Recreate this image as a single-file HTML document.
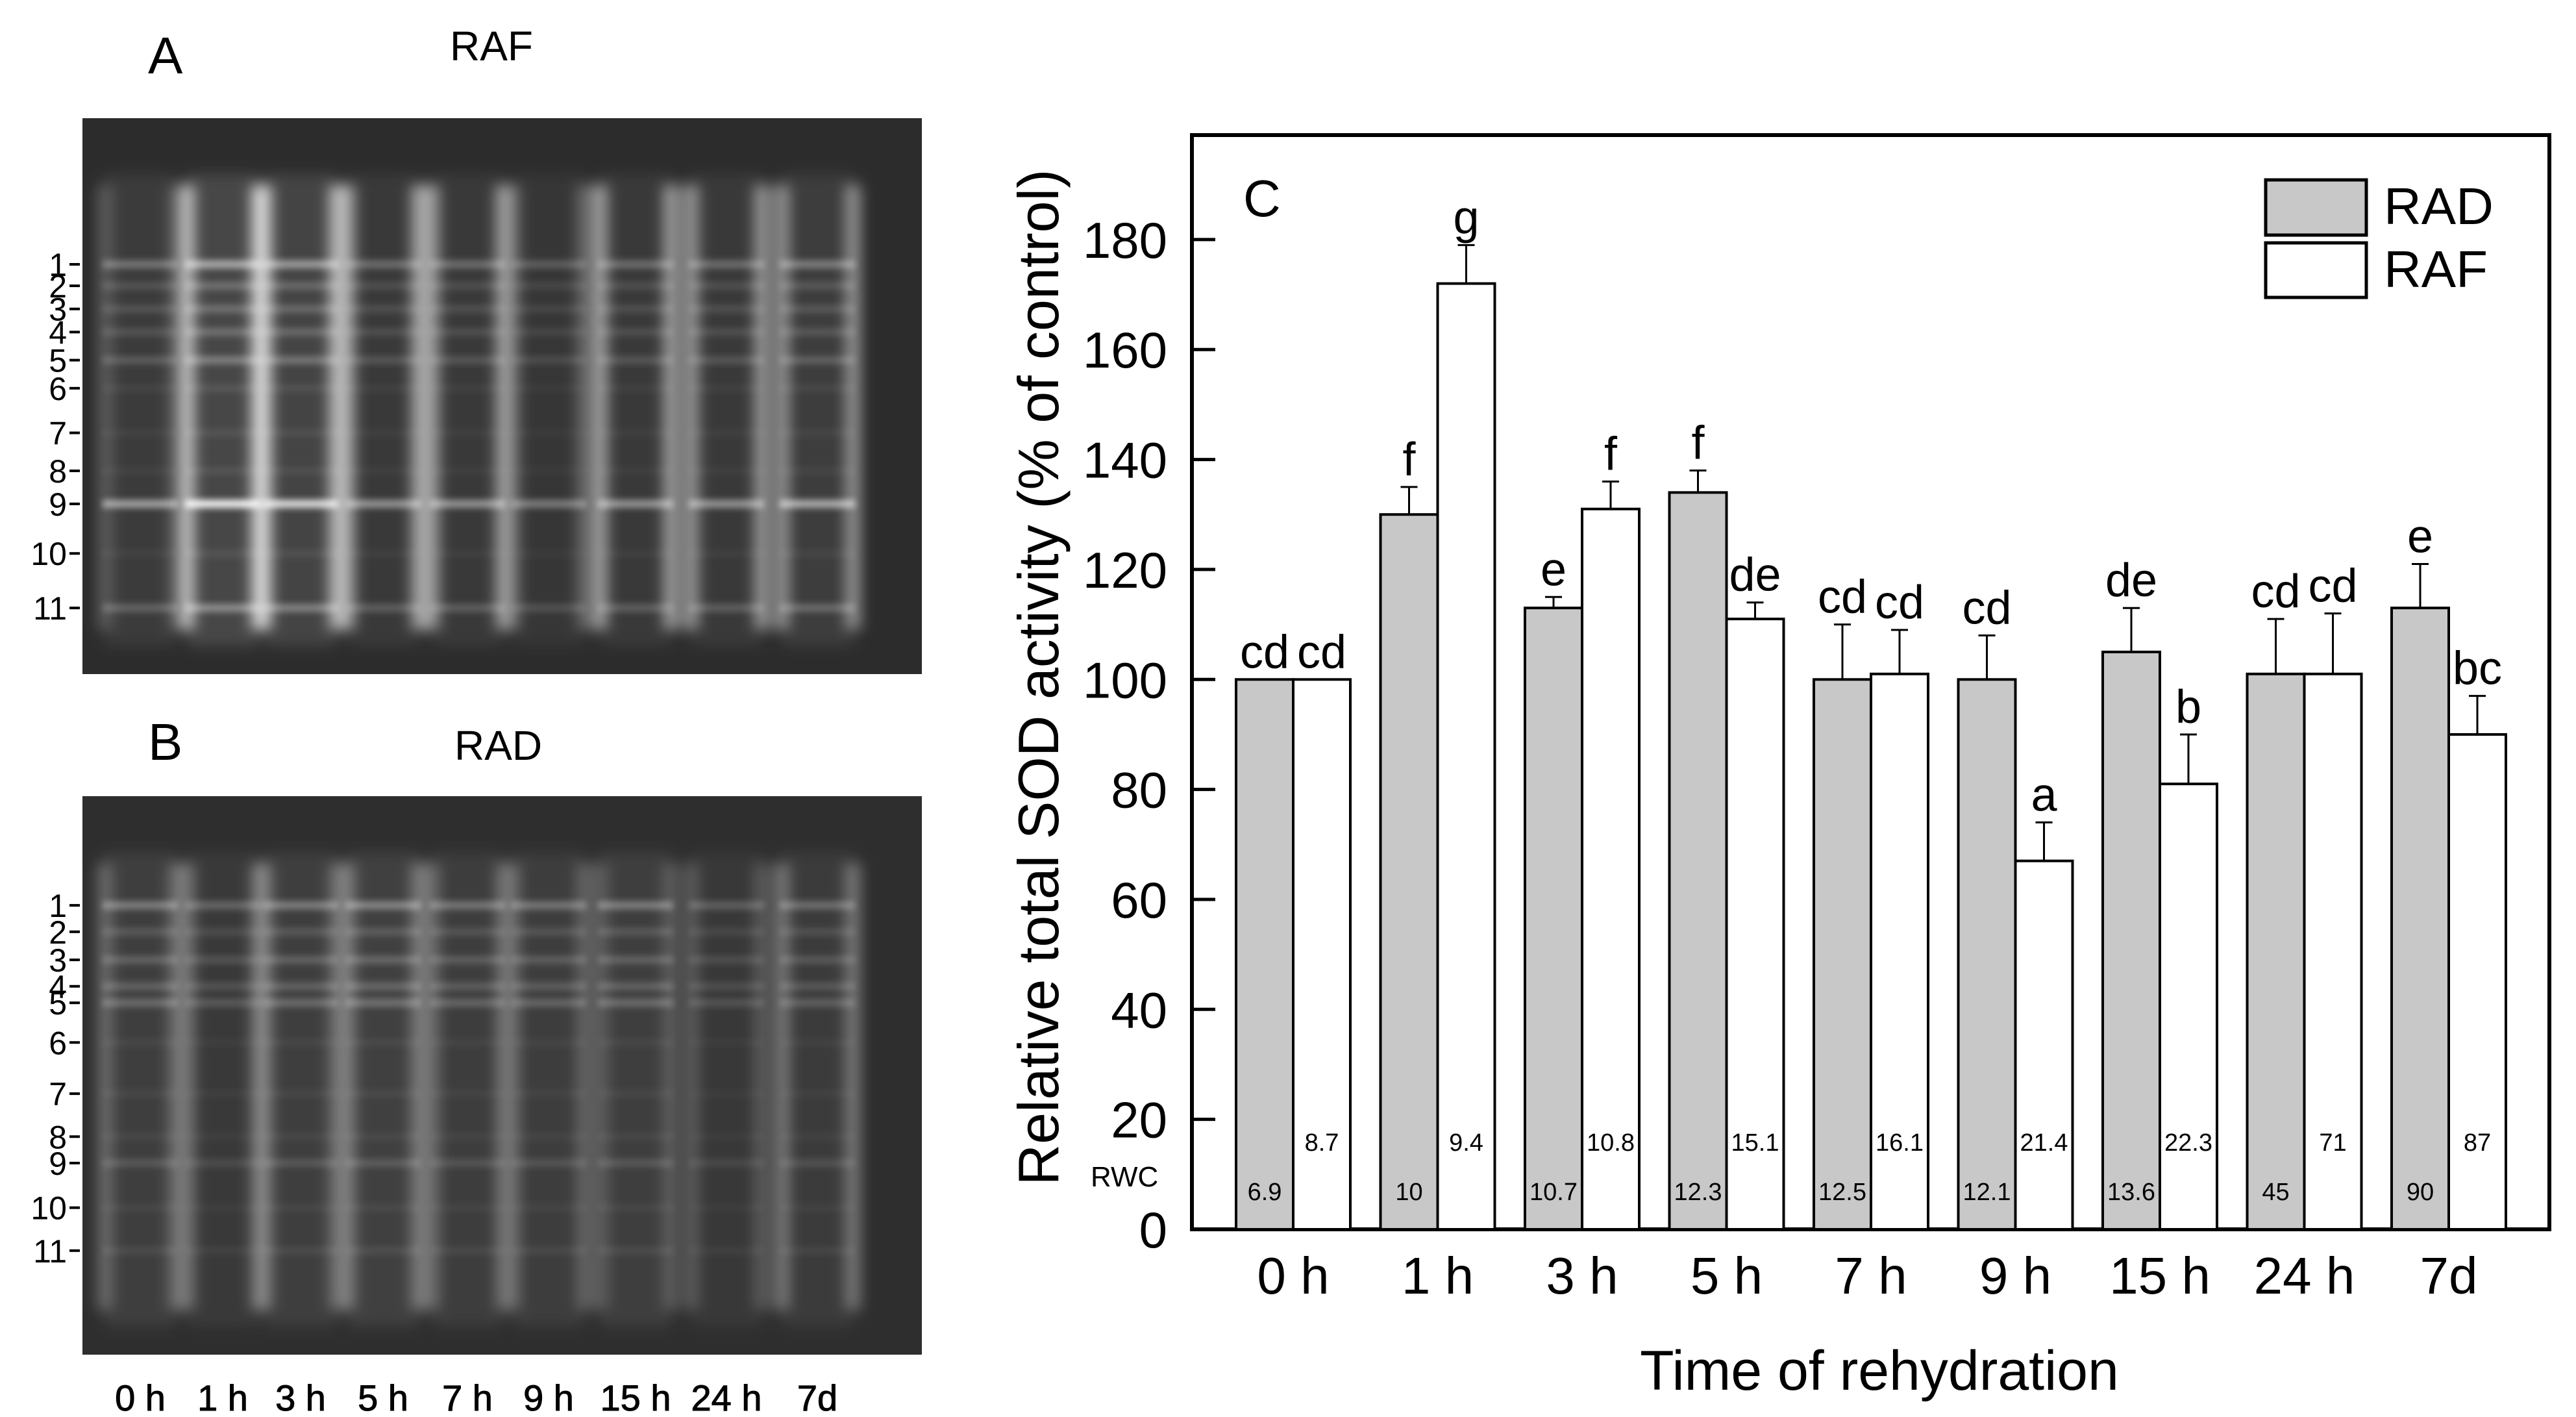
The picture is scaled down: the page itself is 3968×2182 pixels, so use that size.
<!DOCTYPE html>
<html><head><meta charset="utf-8"><style>
html,body{margin:0;padding:0;background:#fff;}
svg{display:block;font-family:"Liberation Sans",Arial,sans-serif;}
</style></head><body>
<svg id="fig" width="3968" height="2182" viewBox="0 0 3968 2182" xmlns="http://www.w3.org/2000/svg">
<defs>
<filter id="blur" x="-20%" y="-20%" width="140%" height="140%"><feGaussianBlur stdDeviation="11"/></filter>
<filter id="blur2" x="-20%" y="-20%" width="140%" height="140%"><feGaussianBlur stdDeviation="5"/></filter>
<clipPath id="clipA"><rect x="127" y="182" width="1293" height="856"/></clipPath>
<clipPath id="clipB"><rect x="127" y="1226" width="1293" height="860"/></clipPath>
</defs>
<g id="gels"></g>
<g id="chart"></g>
</svg>
<script>
const NS='http://www.w3.org/2000/svg';
function mk(tag,attrs,parent,txt){const e=document.createElementNS(NS,tag);for(const k in attrs)e.setAttribute(k,attrs[k]);if(txt!==undefined)e.textContent=txt;parent.appendChild(e);return e;}

// ---------- chart data ----------
const categories=['0 h','1 h','3 h','5 h','7 h','9 h','15 h','24 h','7d'];
const radValues=[100,130,113,134,100,100,105,101,113];
const radErr=[0,5,2,4,10,8,8,10,8];
const rafValues=[100,172,131,111,101,67,81,101,90];
const rafErr=[0,7,5,3,8,7,9,11,7];
const radLetters=['cd','f','e','f','cd','cd','de','cd','e'];
const rafLetters=['cd','g','f','de','cd','a','b','cd','bc'];
const radRWC=['6.9','10','10.7','12.3','12.5','12.1','13.6','45','90'];
const rafRWC=['8.7','9.4','10.8','15.1','16.1','21.4','22.3','71','87'];
const yTicks=[0,20,40,60,80,100,120,140,160,180];

// ---------- chart geometry ----------
const L=1836,R=3927,T=208,B=1893,yMax=199;
const y=v=>B-(v/yMax)*(B-T);
const groupStart=1992,groupStep=222.5,barW=88;
const xc=i=>groupStart+i*groupStep;
const C=document.getElementById('chart');

const frame=mk('rect',{x:L,y:T,width:R-L,height:B-T,fill:'none',stroke:'#000','stroke-width':6},C);



yTicks.forEach(t=>{
  const tk=mk('line',{x1:L,x2:L+36,y1:y(t),y2:y(t),stroke:'#000','stroke-width':5},C);
  
  
  const lb=mk('text',{x:1798,y:y(t)+28,'text-anchor':'end','font-size':78},C,String(t));
  
  
});

categories.forEach((c,i)=>{
  const specs=[[radValues[i],radErr[i],radLetters[i],radRWC[i],'#c8c8c8',-barW,'rad'],[rafValues[i],rafErr[i],rafLetters[i],rafRWC[i],'#ffffff',0,'raf']];
  specs.forEach(([v,e,let_,rwc,fill,off,s])=>{
    const x0=xc(i)+off;
    const r=mk('rect',{x:x0,y:y(v),width:barW,height:B-y(v),fill:fill,stroke:'#000','stroke-width':4},C);
    
    
    const cx=x0+barW/2;
    let top=y(v);
    if(e>0){
      top=y(v+e);
      const el=mk('line',{x1:cx,x2:cx,y1:y(v),y2:top,stroke:'#000','stroke-width':3},C);
      
      
      const cap=mk('line',{x1:cx-13,x2:cx+13,y1:top,y2:top,stroke:'#000','stroke-width':3},C);
      
      
    }
    const lt=mk('text',{x:cx,y:top-18,'text-anchor':'middle','font-size':72},C,let_);
    
    
    const rw=mk('text',{x:cx,y:s==='rad'?1848:1772,'text-anchor':'middle','font-size':38},C,rwc);
    
    
  });
  const xl=mk('text',{x:xc(i),y:1992,'text-anchor':'middle','font-size':80},C,c);
  
  
});
</script>
<script>
(function(){
const C=document.getElementById('chart');
function t(x,y,s,txt,name,extra){const e=document.createElementNS(NS,'text');e.setAttribute('x',x);e.setAttribute('y',y);e.setAttribute('font-size',s);if(extra)for(const k in extra)e.setAttribute(k,extra[k]);e.textContent=txt;C.appendChild(e);return e;}
t(1680,1827,44,'RWC','rwc-label');
t(1915,333,80,'C','panel-label-c');
t(2895,2140,86,'Time of rehydration','x-axis-title',{'text-anchor':'middle'});
t(1630,1043,88,'Relative total SOD activity (% of control)','y-axis-title',{'text-anchor':'middle',transform:'rotate(-90 1630 1043)'});
const lg=document.createElementNS(NS,'g');C.appendChild(lg);
const s1=mk('rect',{x:3490,y:277,width:155,height:85,fill:'#c8c8c8',stroke:'#000','stroke-width':5},lg);

const s2=mk('rect',{x:3490,y:374,width:155,height:84,fill:'#fff',stroke:'#000','stroke-width':5},lg);

const l1=mk('text',{x:3672,y:345,'font-size':80},lg,'RAD');
const l2=mk('text',{x:3672,y:442,'font-size':80},lg,'RAF');
})();
</script>
<script>
(function(){
const G=document.getElementById('gels');
function txt(x,y,s,str,name,anchor){const e=mk('text',{x:x,y:y,'font-size':s,'text-anchor':anchor||'start'},G,str);return e;}
txt(228,113,80,'A','panel-label-a');
txt(693,93,64,'RAF','gel-title-raf');
txt(228,1170,80,'B','panel-label-b');
txt(700,1170,64,'RAD','gel-title-rad');
const laneX=[216,343,463,590,720,845,979,1119,1259];
const laneLab=['0 h','1 h','3 h','5 h','7 h','9 h','15 h','24 h','7d'];
laneLab.forEach((l,i)=>{const e=txt(laneX[i],2172,56,l,'lane-label','middle');e.setAttribute('stroke','#000');e.setAttribute('stroke-width','1');});
const bandA=[160,173,187,201,218,235,262,285,305,335,368].map(v=>v*2.544);
const bandB=[548,564,581,597,607,631,662,688,704,731,757].map(v=>v*2.544);
function gel(x0,y0,w,h,clip,bands,bright,streak,name,bandStrong,bg){
  const g=mk('g',{'clip-path':'url(#'+clip+')'},G);
  
  mk('rect',{x:x0,y:y0,width:w,height:h,fill:bg},g);
  const gb=mk('g',{filter:'url(#blur)'},g);
  laneX.forEach((lx,i)=>{
    const b=bright[i],s=streak[i];
    mk('rect',{x:lx-55,y:y0+h*0.1,width:110,height:h*0.85,fill:'#fff',opacity:0.08*b},gb);
    mk('rect',{x:lx-66,y:y0+h*0.12,width:22,height:h*0.8,fill:'#fff',opacity:0.35*s},gb);
    mk('rect',{x:lx+44,y:y0+h*0.12,width:22,height:h*0.8,fill:'#fff',opacity:0.35*s},gb);
  });
  const gb2=mk('g',{filter:'url(#blur2)'},g);
  laneX.forEach((lx,i)=>{
    bands.forEach((by,k)=>{
      mk('rect',{x:lx-58,y:by-6,width:116,height:12,fill:'#fff',opacity:(bandStrong[k]||0.1)*bright[i]},gb2);
    });
  });
  bands.forEach((by,k)=>{
    txt(x0-24,by+18,50,String(k+1),'band-marker-label','end');
    const m=mk('line',{x1:x0-20,x2:x0-4,y1:by,y2:by,stroke:'#000','stroke-width':4},G);
    
  });
}
gel(127,182,1293,856,'clipA',bandA,[0.9,1.6,1.4,0.8,0.8,0.6,0.8,0.8,1.0],[0.6,2.0,1.8,1.6,1.5,0.8,1.6,1.5,1.4],'gel-raf',[0.35,0.15,0.15,0.15,0.2,0.06,0.05,0.05,0.6,0.05,0.25],'#2c2c2c');
gel(127,1226,1293,860,'clipB',bandB,[1.0,0.7,1.0,1.1,0.9,0.9,1.0,0.6,0.8],[0.8,0.9,0.8,1.0,0.8,0.7,0.6,0.6,1.0],'gel-rad',[0.35,0.15,0.2,0.2,0.25,0.05,0.05,0.05,0.15,0.05,0.08],'#2e2e2e');
})();
</script>
</body></html>
